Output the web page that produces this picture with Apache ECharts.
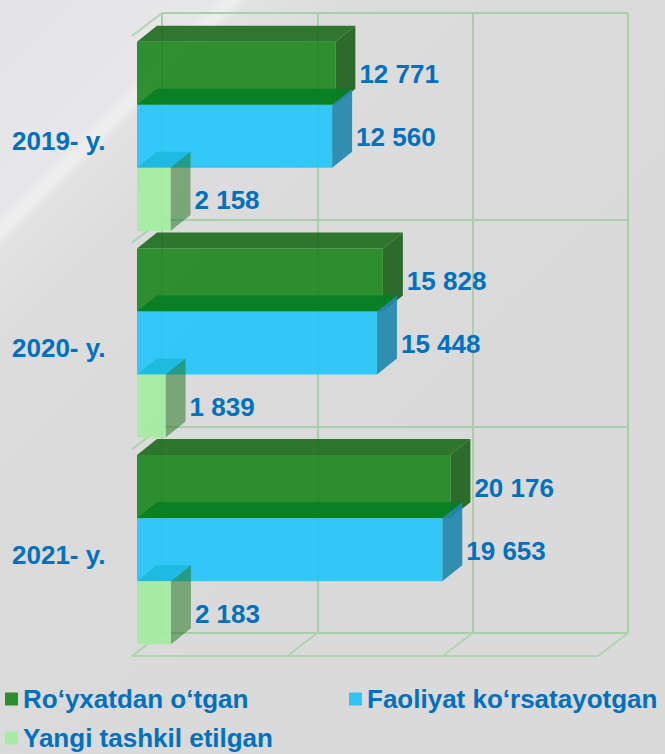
<!DOCTYPE html>
<html>
<head>
<meta charset="utf-8">
<script src="https://cdn.jsdelivr.net/npm/echarts@6/dist/echarts.min.js"></script>
<style>
  html, body { margin: 0; padding: 0; }
  #chart { width: 665px; height: 754px; }
</style>
</head>
<body>
<div id="chart"></div>
<script>
const categories = ['2019- y.', '2020- y.', '2021- y.'];
const registered = [12771, 15828, 20176];
const active = [12560, 15448, 19653];
const newlyCreated = [2158, 1839, 2183];
const seriesNames = ['Ro‘yxatdan o‘tgan', 'Faoliyat ko‘rsatayotgan', 'Yangi tashkil etilgan'];
const xMax = 30000;
const xStep = 10000;

const FONT = 'Liberation Sans, Arial, sans-serif';
const TEXT_BLUE = '#0070c0';

// the grid is the back wall; bars sit a bit in front of it
const FRONT_DX = -25, FRONT_DY = 20;
const DEPTH_DX = 20, DEPTH_DY = -16;
const FLOOR_DX = -30, FLOOR_DY = 23;

const faces = [
  { front: 'rgba(29,136,30,0.92)', top: 'rgba(31,109,31,0.92)', side: 'rgba(29,98,29,0.92)', legend: '#2c8f2d' },
  { front: 'rgba(36,197,249,0.92)', top: 'rgba(7,127,35,0.92)', side: 'rgba(34,136,172,0.92)', legend: '#33c4f7' },
  { front: 'rgba(164,237,159,0.92)', top: 'rgba(29,184,224,0.92)', side: 'rgba(24,112,24,0.5)', legend: '#a6eba6' }
];

const fmt = (v) => String(v).replace(/\B(?=(\d{3})+(?!\d))/g, ' ');

const makeBox = (idx) => (params, api) => {
  const val = api.value(0);
  const cat = api.value(1);
  const c0 = api.coord([0, cat]);
  const c1 = api.coord([val, cat]);
  const band = api.size([0, 1])[1];
  const bh = band * 0.305;
  const top = c0[1] + FRONT_DY - 1.5 * bh + idx * bh;
  const bot = top + bh;
  const x0 = c0[0] + FRONT_DX;
  const x1 = c1[0] + FRONT_DX;
  const f = faces[idx];
  return {
    type: 'group',
    children: [
      {
        type: 'polygon',
        shape: { points: [[x0, top], [x1, top], [x1 + DEPTH_DX, top + DEPTH_DY], [x0 + DEPTH_DX, top + DEPTH_DY]] },
        style: { fill: f.top }
      },
      {
        type: 'polygon',
        shape: { points: [[x1, top], [x1 + DEPTH_DX, top + DEPTH_DY], [x1 + DEPTH_DX, bot + DEPTH_DY], [x1, bot]] },
        style: { fill: f.side }
      },
      {
        type: 'rect',
        shape: { x: x0, y: top, width: x1 - x0, height: bh },
        style: { fill: f.front }
      },
      {
        type: 'text',
        style: {
          text: fmt(val),
          x: x1 + 24,
          y: top + bh / 2 + 1,
          verticalAlign: 'middle',
          fontSize: 26,
          fontWeight: 'bold',
          fontFamily: FONT,
          fill: TEXT_BLUE
        }
      }
    ]
  };
};

const renderFrame = (params, api) => {
  const band = api.size([0, 1])[1];
  const topY = api.coord([0, 0])[1] - band / 2;
  const bottomY = topY + band * categories.length;
  const lineStyle = { stroke: '#b0d4b0', lineWidth: 2 };
  const children = [];
  for (let b = 0; b <= categories.length; b++) {
    const x = api.coord([0, 0])[0];
    const y = topY + b * band;
    children.push({ type: 'line', shape: { x1: x, y1: y, x2: x + FLOOR_DX, y2: y + FLOOR_DY }, style: lineStyle });
  }
  for (let t = 0; t <= xMax; t += xStep) {
    const x = api.coord([t, 0])[0];
    children.push({ type: 'line', shape: { x1: x, y1: bottomY, x2: x + FLOOR_DX, y2: bottomY + FLOOR_DY }, style: lineStyle });
  }
  children.push({
    type: 'line',
    shape: {
      x1: api.coord([0, 0])[0] + FLOOR_DX, y1: bottomY + FLOOR_DY,
      x2: api.coord([xMax, 0])[0] + FLOOR_DX, y2: bottomY + FLOOR_DY
    },
    style: lineStyle
  });
  return { type: 'group', children };
};

const chart = echarts.init(document.getElementById('chart'), null, { renderer: 'svg' });

const toData = (arr) => arr.map((v, i) => [v, i]);
const legendText = { color: TEXT_BLUE, fontSize: 26, fontWeight: 'bold', fontFamily: FONT, lineHeight: 26 };

chart.setOption({
  backgroundColor: new echarts.graphic.LinearGradient(0, 0, 420, 420, [
    { offset: 0, color: '#e4e4e6' },
    { offset: 0.25, color: '#e7e7e9' },
    { offset: 0.28, color: '#eeeeef' },
    { offset: 0.3, color: '#e2e2e3' },
    { offset: 0.42, color: '#dcdcdc' },
    { offset: 1, color: '#dadada' }
  ], true),
  animation: false,
  legend: [
    { data: [seriesNames[0]], left: 5, top: 686, padding: 0, icon: 'rect', itemWidth: 13, itemHeight: 13, textStyle: legendText },
    { data: [seriesNames[1]], left: 349, top: 686, padding: 0, icon: 'rect', itemWidth: 13, itemHeight: 13, textStyle: legendText },
    { data: [seriesNames[2]], left: 5, top: 725, padding: 0, icon: 'rect', itemWidth: 13, itemHeight: 13, textStyle: legendText }
  ],
  grid: { left: 162, top: 13, width: 466, height: 620 },
  xAxis: {
    type: 'value',
    min: 0,
    max: xMax,
    interval: xStep,
    axisLabel: { show: false },
    axisLine: { show: false },
    axisTick: { show: false },
    splitLine: { show: true, lineStyle: { color: '#a9cfa9', width: 2 } }
  },
  yAxis: {
    type: 'category',
    inverse: true,
    data: categories,
    axisLine: { show: false },
    axisTick: { show: false },
    splitLine: { show: true, lineStyle: { color: '#a9cfa9', width: 2 } },
    axisLabel: {
      align: 'left',
      margin: 150,
      verticalAlign: 'top',
      lineHeight: 50,
      color: TEXT_BLUE,
      fontSize: 26,
      fontWeight: 'bold',
      fontFamily: FONT
    }
  },
  series: [
    {
      name: 'frame',
      type: 'custom',
      renderItem: renderFrame,
      data: [[0, 0]],
      silent: true
    },
    {
      name: seriesNames[0],
      type: 'custom',
      renderItem: makeBox(0),
      itemStyle: { color: faces[0].legend },
      encode: { x: 0, y: 1 },
      data: toData(registered)
    },
    {
      name: seriesNames[1],
      type: 'custom',
      renderItem: makeBox(1),
      itemStyle: { color: faces[1].legend },
      encode: { x: 0, y: 1 },
      data: toData(active)
    },
    {
      name: seriesNames[2],
      type: 'custom',
      renderItem: makeBox(2),
      itemStyle: { color: faces[2].legend },
      encode: { x: 0, y: 1 },
      data: toData(newlyCreated)
    }
  ]
});
</script>
</body>
</html>
